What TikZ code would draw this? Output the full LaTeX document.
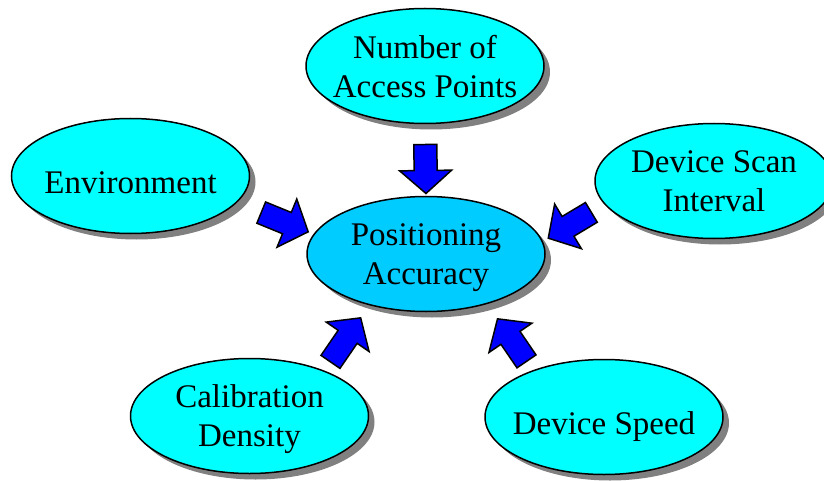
\documentclass[tikz,border=0pt]{standalone}
\usepackage{fontspec}
\setmainfont{Liberation Serif}
\usepackage{tikz}
\usetikzlibrary{calc,shapes.geometric,shadows}
\definecolor{cyanvif}{HTML}{00FFFF}
\definecolor{ciel}{HTML}{00CCFF}
\definecolor{bleu}{HTML}{0000FF}
\definecolor{ombre}{HTML}{808080}
\tikzset{
  bulle/.style={ellipse,draw=black,line width=1.5pt,fill=cyanvif,align=center,
                minimum width=238pt,minimum height=115pt,inner sep=-30pt,outer sep=0pt,
                font=\fontsize{33}{39}\selectfont,text depth=-14pt,
                execute at begin node={\rule{0pt}{35pt}},
                drop shadow={shadow xshift=6pt,shadow yshift=-6pt,fill=ombre,opacity=1}},
  fleche/.style 2 args={draw=black,line width=1.5pt,fill=bleu,line join=miter,
                to path={($(\tikztostart)!#1!(\tikztotarget)$) coordinate (fq)
                  ($(\tikztotarget)!#2!(\tikztostart)$) coordinate (fp)
                  ($(fp)!23pt!(fq)$) coordinate (fb)
                  ($(fq)!11.5pt!90:(fp)$) -- ($(fb)!11.5pt!-90:(fq)$) -- ($(fb)!26pt!-90:(fq)$)
                  -- (fp) -- ($(fb)!26pt!90:(fq)$) -- ($(fb)!11.5pt!90:(fq)$)
                  -- ($(fq)!11.5pt!-90:(fp)$) -- cycle}},
}
\begin{document}
\begin{tikzpicture}[x=1pt,y=-1pt]
  \useasboundingbox (0,0) rectangle (824,481);
  \node[bulle] (nap) at (425,66) {Number of\\Access Points};
  \node[bulle] (env) at (130.5,176) {Environment};
  \node[bulle] (scan) at (714,181) {Device Scan\\Interval};
  \node[bulle,fill=ciel] (acc) at (426,254) {Positioning\\Accuracy};
  \node[bulle] (cal) at (249.5,416) {Calibration\\Density};
  \node[bulle,text depth=-2pt] (spd) at (604,417) {Device Speed};
  \draw[fleche={21pt}{3pt}] (nap.south) to (acc.north);
  \draw[fleche={27pt}{6.5pt}] (env.-14.6) to (acc.170.7);
  \draw[fleche={16pt}{7pt}] (scan.192) to (acc.6.6);
  \draw[fleche={11.3pt}{16pt}] (cal.31.2) to (acc.-138.4);
  \draw[fleche={11.5pt}{18.7pt}] (spd.147.6) to (acc.-39.3);
\end{tikzpicture}
\end{document}
